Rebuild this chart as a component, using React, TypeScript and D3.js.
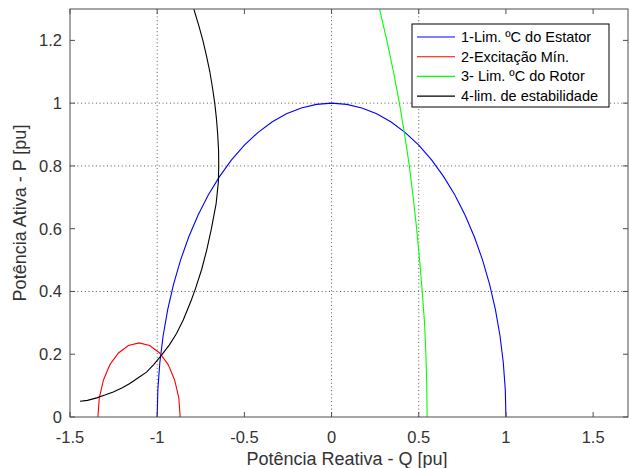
import React from "react";
import * as d3 from "d3";

const xTicks = [-1.5, -1, -0.5, 0, 0.5, 1, 1.5];
const yTicks = [0, 0.2, 0.4, 0.6, 0.8, 1, 1.2];
const xGrid = [-1, 0, 0.5];
const yGrid = [0.4, 0.8, 1];

// 1 - stator limit (Q, P)
const statorQ = [1, 0.9962, 0.9848, 0.9659, 0.9397, 0.9063, 0.866, 0.8192, 0.766, 0.7071, 0.6428, 0.5736, 0.5, 0.4226, 0.342, 0.2588, 0.1736, 0.0872, 0, -0.0872, -0.1736, -0.2588, -0.342, -0.4226, -0.5, -0.5736, -0.6428, -0.7071, -0.766, -0.8192, -0.866, -0.9063, -0.9397, -0.9659, -0.9848, -0.9962, -1];
const statorP = [0, 0.0872, 0.1736, 0.2588, 0.342, 0.4226, 0.5, 0.5736, 0.6428, 0.7071, 0.766, 0.8192, 0.866, 0.9063, 0.9397, 0.9659, 0.9848, 0.9962, 1, 0.9962, 0.9848, 0.9659, 0.9397, 0.9063, 0.866, 0.8192, 0.766, 0.7071, 0.6428, 0.5736, 0.5, 0.4226, 0.342, 0.2588, 0.1736, 0.0872, 0];

// 2 - minimum excitation
const excQ = [-1.34, -1.332, -1.308, -1.271, -1.222, -1.165, -1.104, -1.043, -0.986, -0.937, -0.9, -0.876, -0.868];
const excP = [0, 0.061, 0.118, 0.167, 0.204, 0.228, 0.236, 0.228, 0.204, 0.167, 0.118, 0.061, 0];

// 3 - rotor limit
const rotorQ = [0.548, 0.546, 0.541, 0.533, 0.52, 0.505, 0.488, 0.468, 0.446, 0.419, 0.389, 0.355, 0.317, 0.275];
const rotorP = [0, 0.1, 0.2, 0.3, 0.4, 0.5, 0.6, 0.7, 0.8, 0.9, 1.0, 1.1, 1.2, 1.3];

// 4 - stability limit
const stabQ = [-1.443, -1.4, -1.347, -1.3, -1.252, -1.2, -1.157, -1.1, -1.061, -1.02, -0.975, -0.93, -0.889, -0.85, -0.804, -0.78, -0.745, -0.716, -0.689, -0.662, -0.649, -0.647, -0.648, -0.653, -0.66, -0.67, -0.683, -0.698, -0.717, -0.738, -0.763, -0.79];
const stabP = [0.05, 0.053, 0.061, 0.07, 0.08, 0.093, 0.107, 0.128, 0.143, 0.167, 0.197, 0.23, 0.266, 0.31, 0.373, 0.41, 0.47, 0.532, 0.6, 0.68, 0.75, 0.8, 0.85, 0.9, 0.95, 1.0, 1.05, 1.1, 1.15, 1.2, 1.25, 1.3];

const legendLabels = ["1-Lim. ºC do Estator", "2-Excitação Mín.", "3- Lim. ºC do Rotor", "4-lim. de estabilidade"];
const seriesColors = ["#0000ff", "#ff0000", "#00ff00", "#000000"];

const W = 630, H = 468;
const left = 70, right = 628, top = 9, bottom = 417;
const FONT = "'Liberation Sans', Arial, sans-serif";

export default function App() {
  const x = d3.scaleLinear().domain([-1.5, 1.7]).range([left, right]);
  const y = d3.scaleLinear().domain([0, 1.3]).range([bottom, top]);
  const line = d3.line<[number, number]>().x((d) => x(d[0])).y((d) => y(d[1]));
  const zip = (a: number[], b: number[]) => a.map((v, i) => [v, b[i]] as [number, number]);
  const series = [zip(statorQ, statorP), zip(excQ, excP), zip(rotorQ, rotorP), zip(stabQ, stabP)];
  const axisColor = "#4d4d4d";
  const textColor = "#333333";
  const tl = 5;
  const lgX = 412, lgY = 24, lgW = 197, lgH = 83;

  return (
    <svg width={W} height={H} style={{ position: "absolute", left: 0, top: 0, background: "#fff" }}>
      <defs>
        <clipPath id="plot">
          <rect x={left} y={top} width={right - left} height={bottom - top} />
        </clipPath>
      </defs>
      <rect x={0} y={0} width={W} height={H} fill="#fff" />
      {xGrid.map((v) => (
        <line key={"gx" + v} x1={x(v)} x2={x(v)} y1={top} y2={bottom} stroke="#555" strokeWidth={1} strokeDasharray="1,2.7" />
      ))}
      {yGrid.map((v) => (
        <line key={"gy" + v} x1={left} x2={right} y1={y(v)} y2={y(v)} stroke="#555" strokeWidth={1} strokeDasharray="1,2.7" />
      ))}
      <g clipPath="url(#plot)">
        {series.map((s, i) => (
          <path key={i} d={line(s) || ""} fill="none" stroke={seriesColors[i]} strokeWidth={1.1} />
        ))}
      </g>
      <rect x={left} y={top} width={right - left} height={bottom - top} fill="none" stroke={axisColor} strokeWidth={1} />
      {xTicks.map((v) => (
        <g key={"xt" + v}>
          <line x1={x(v)} x2={x(v)} y1={bottom} y2={bottom - tl} stroke={axisColor} />
          <line x1={x(v)} x2={x(v)} y1={top} y2={top + tl} stroke={axisColor} />
          <text x={x(v)} y={443} textAnchor="middle" fontFamily={FONT} fontSize={16.5} fill={textColor}>
            {v}
          </text>
        </g>
      ))}
      {yTicks.map((v) => (
        <g key={"yt" + v}>
          <line x1={left} x2={left + tl} y1={y(v)} y2={y(v)} stroke={axisColor} />
          <line x1={right} x2={right - tl} y1={y(v)} y2={y(v)} stroke={axisColor} />
          <text x={62} y={y(v) + 6} textAnchor="end" fontFamily={FONT} fontSize={16.5} fill={textColor}>
            {v}
          </text>
        </g>
      ))}
      <text x={347} y={465} textAnchor="middle" fontFamily={FONT} fontSize={18} fill={textColor}>
        Potência Reativa - Q [pu]
      </text>
      <text transform={`translate(26,${213}) rotate(-90)`} textAnchor="middle" fontFamily={FONT} fontSize={18} fill={textColor}>
        Potência Ativa - P [pu]
      </text>
      <rect x={lgX} y={lgY} width={lgW} height={lgH} fill="#fff" stroke="#000" strokeWidth={1} />
      {legendLabels.map((lab, i) => {
        const cy = lgY + 13 + i * 19.7;
        return (
          <g key={"lg" + i}>
            <line x1={417} x2={455} y1={cy} y2={cy} stroke={seriesColors[i]} strokeWidth={1.1} />
            <text x={461} y={cy + 5} fontFamily={FONT} fontSize={14.5} fill="#000">
              {lab}
            </text>
          </g>
        );
      })}
    </svg>
  );
}
